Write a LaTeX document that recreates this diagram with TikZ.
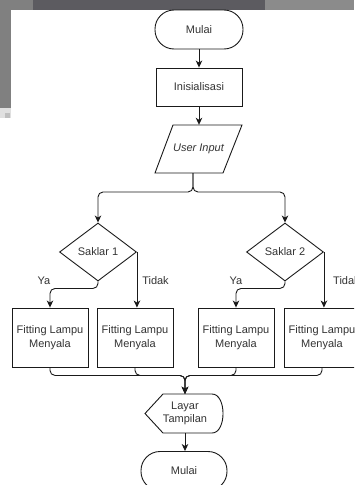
\documentclass[tikz,border=0pt]{standalone}
\usepackage{fontspec}
\setmainfont{Liberation Sans}
\usetikzlibrary{shapes.geometric,arrows.meta}
\definecolor{ln}{HTML}{1A1A1A}
\definecolor{tx}{HTML}{333333}
\definecolor{bgA}{HTML}{808080}
\definecolor{bgB}{HTML}{5C5B60}
\definecolor{bgC}{HTML}{8B8B8B}
\begin{document}
\begin{tikzpicture}[x=1pt,y=-1pt,
  lines/.style={draw=ln, line width=0.9pt},
  txt/.style={font=\fontsize{11}{13.5}\selectfont, text=tx},
  arr/.style={lines, -{Stealth[length=7pt,width=6.5pt,inset=2pt]}, rounded corners=5pt},
  term/.style={lines, txt, rectangle, rounded corners=19pt, minimum width=88pt, minimum height=39pt, inner sep=0pt},
  proc/.style={lines, txt, rectangle, minimum width=86pt, minimum height=38pt, inner sep=0pt},
  fitbox/.style={lines, txt, rectangle, minimum width=76pt, minimum height=59pt, inner sep=0pt, align=center},
  dec/.style={lines, txt, diamond, minimum width=77pt, minimum height=58pt, inner sep=0pt},
  lbl/.style={txt, inner sep=0pt}
]
\useasboundingbox (0,0) rectangle (354,485);
\clip (0,0) rectangle (354,485);
% screenshot artefacts
\fill[bgA] (0,0) rectangle (33,10);
\fill[bgB] (33,0) rectangle (265,10);
\fill[bgC] (265,0) rectangle (354,10);
\fill[bgA] (0,10) rectangle (11,108);
\fill[black!12] (0,108) rectangle (11,118);
\fill[black!25] (5,113) rectangle (10,118);

% nodes
\node[term] (t1) at (199,29.5) {Mulai};
\node[proc] (init) at (199,87) {Inisialisasi};
\draw[lines] (173,125) -- (242,125) -- (223,173) -- (155,173) -- cycle;
\node[lbl, minimum height=48pt, font=\fontsize{11}{13.5}\selectfont\itshape] (ui) at (198.5,149) {User Input};
\coordinate (uis) at (193,173);

\node[dec] (s1) at (98,252) {Saklar 1};
\node[dec] (s2) at (285,252) {Saklar 2};

\node[fitbox] (b1) at (50,337.5) {Fitting Lampu\\Menyala};
\node[fitbox] (b2) at (135,337.5) {Fitting Lampu\\Menyala};
\node[fitbox] (b3) at (236,337.5) {Fitting Lampu\\Menyala};
\node[fitbox] (b4) at (322,337.5) {Fitting Lampu\\Menyala};

\draw[lines] (145,413.5) -- (163,394) -- (212,394)
  .. controls (226.7,394) and (226.7,433) .. (212,433) -- (163,433) -- cycle;
\node[lbl, align=center, minimum height=39pt] (lt) at (185,413.5) {Layar\\Tampilan};

\node[term, minimum width=86pt] (t2) at (184,471) {Mulai};

% labels
\node[lbl] (ya1) at (44,281) {Ya};
\node[lbl] (td1) at (155.5,281) {Tidak};
\node[lbl] (ya2) at (236,281) {Ya};
\node[lbl, anchor=west] (td2) at (333,281) {Tidak};

% connectors
\draw[arr] (t1) -- (init);
\draw[arr] (init.south) -- (init.south |- ui.north);
\draw[arr] (uis) -- ++(0,19) -| (s1.north);
\draw[arr] (uis) -- ++(0,19) -| (s2.north);
\draw[arr] (s1.south) -- ++(0,7) -| (b1.north);
\draw[arr] (s1.east) -- (s1.east |- b2.north);
\draw[arr] (s2.south) -- ++(0,7) -| (b3.north);
\draw[arr] (s2.east) -- (s2.east |- b4.north);
\draw[arr] (b1.south) -- ++(0,8) -| (lt.north);
\draw[arr] (b2.south) -- ++(0,8) -| (lt.north);
\draw[arr] (b3.south) -- ++(0,8) -| (lt.north);
\draw[arr] (b4.south) -- ++(0,8) -| (lt.north);
\draw[arr] (lt.south) -- (lt.south |- t2.north);
\end{tikzpicture}
\end{document}
